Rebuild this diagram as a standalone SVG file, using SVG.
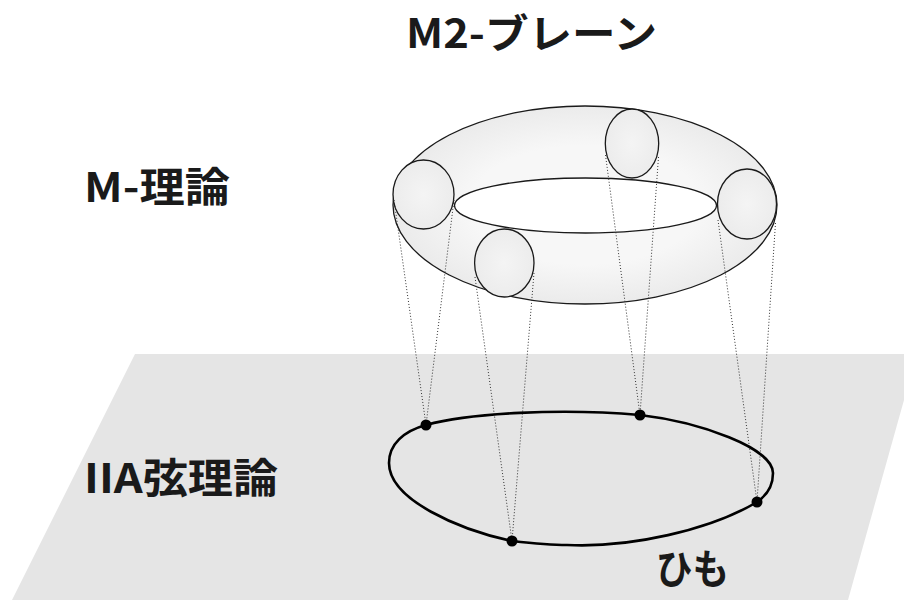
<svg xmlns="http://www.w3.org/2000/svg" width="904" height="600" viewBox="0 0 904 600">
  <style>
    .label { font-family: "Noto Sans CJK JP", "Liberation Sans", sans-serif; font-weight: 700; fill: #1a1a1a; }
    .outline { fill: none; stroke: #1a1a1a; stroke-width: 1.3; }
    .slice { fill: url(#sliceFill); stroke: #1a1a1a; stroke-width: 1.3; }
    .proj { fill: none; stroke: #333; stroke-width: 1; stroke-dasharray: 1 2; }
    .point { fill: #000; }
  </style>
  <defs>
    <radialGradient id="torusFill" cx="0.5" cy="0.5" r="0.5">
      <stop offset="0.6" stop-color="#f7f7f7"/>
      <stop offset="1" stop-color="#ebebeb"/>
    </radialGradient>
    <radialGradient id="sliceFill" cx="0.5" cy="0.5" r="0.5">
      <stop offset="0" stop-color="#f4f4f4"/>
      <stop offset="1" stop-color="#ececec"/>
    </radialGradient>
  </defs>

  <rect width="904" height="600" fill="#fff"/>

  <!-- IIA plane -->
  <polygon id="plane" points="135,354 904,354 904,400 848,600 12,600" fill="#e5e5e5"/>

  <!-- torus (M2-brane) -->
  <g id="torus">
    <path d="M 393,205 A 192,99 0 1 0 777,205 A 192,99 0 1 0 393,205 Z M 454.5,205.5 A 131,27.5 0 1 0 716.5,205.5 A 131,27.5 0 1 0 454.5,205.5 Z"
          fill="url(#torusFill)" fill-rule="evenodd"/>
    <ellipse class="outline" cx="585" cy="205" rx="192" ry="99"/>
    <ellipse class="outline" cx="585.5" cy="205.5" rx="131" ry="27.5"/>
  </g>

  <!-- cross-section circles of the torus -->
  <g id="slice-left"><ellipse class="slice" cx="423.5" cy="194.5" rx="30.5" ry="34.5"/></g>
  <g id="slice-top"><ellipse class="slice" cx="632" cy="143.5" rx="26.7" ry="34.5"/></g>
  <g id="slice-right"><ellipse class="slice" cx="747" cy="204" rx="29.5" ry="35"/></g>
  <g id="slice-front"><ellipse class="slice" cx="504.3" cy="263" rx="29.7" ry="34"/></g>

  <!-- projection lines from each circle to the string -->
  <g id="connectors">
    <line class="proj" x1="394" y1="200" x2="426" y2="425"/>
    <line class="proj" x1="454" y1="200" x2="426" y2="425"/>
    <line class="proj" x1="605.5" y1="155" x2="640" y2="415"/>
    <line class="proj" x1="658.5" y1="157" x2="640" y2="415"/>
    <line class="proj" x1="718" y1="220" x2="757" y2="502"/>
    <line class="proj" x1="775.5" y1="223" x2="757" y2="502"/>
    <line class="proj" x1="475" y1="277" x2="512" y2="541"/>
    <line class="proj" x1="534" y1="273" x2="512" y2="541"/>
  </g>

  <!-- closed string on the plane -->
  <g id="string">
    <path d="M 389,463 C 389,444 404,431 426,425 C 470,413 560,408 640,415 C 700,422 773,448 773,473 C 773,486 766,496 757,502 C 710,530 630,548 567,545 C 548,545 530,543 512,541 C 460,530 389,500 389,463 Z"
          fill="none" stroke="#000" stroke-width="2.6"/>
  </g>

  <g id="points">
    <circle class="point" cx="426" cy="425" r="5.5"/>
    <circle class="point" cx="640" cy="415" r="5.5"/>
    <circle class="point" cx="757" cy="502" r="5.5"/>
    <circle class="point" cx="512" cy="541" r="5.5"/>
  </g>

  <g id="labels">
    <text class="label" x="406" y="48" font-size="40" textLength="251" lengthAdjust="spacingAndGlyphs">M2-ブレーン</text>
    <text class="label" x="84" y="202" font-size="41" textLength="146" lengthAdjust="spacingAndGlyphs">M-理論</text>
    <text class="label" x="84" y="493" font-size="41" textLength="194" lengthAdjust="spacingAndGlyphs">IIA弦理論</text>
    <text class="label" x="656" y="584" font-size="41" textLength="73" lengthAdjust="spacingAndGlyphs">ひも</text>
  </g>
</svg>
